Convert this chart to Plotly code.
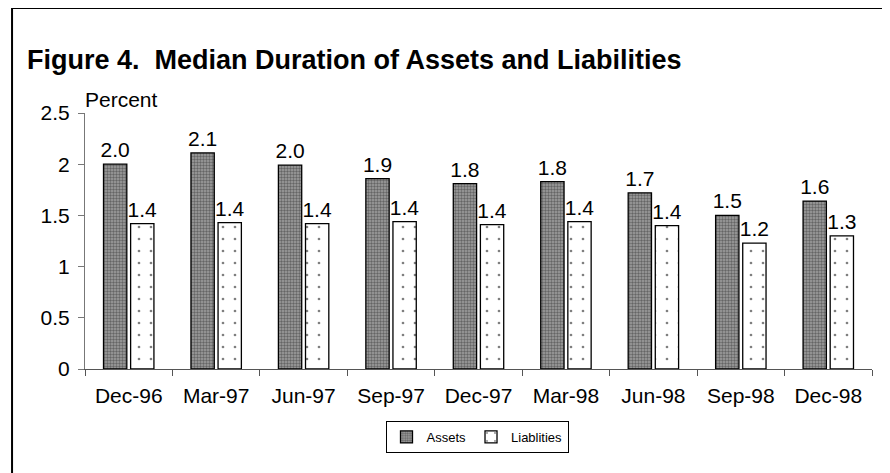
import plotly.graph_objects as go

categories = ["Dec-96", "Mar-97", "Jun-97", "Sep-97", "Dec-97", "Mar-98", "Jun-98", "Sep-98", "Dec-98"]
assets = [2.00, 2.11, 1.99, 1.86, 1.81, 1.83, 1.72, 1.50, 1.64]
liabilities = [1.42, 1.43, 1.42, 1.44, 1.41, 1.44, 1.40, 1.23, 1.30]
y_ticks = [0, 0.5, 1, 1.5, 2, 2.5]
y_tick_labels = ["0", "0.5", "1", "1.5", "2", "2.5"]

FONT = "Arial, Liberation Sans, sans-serif"

# page body has an 8px margin; figure is sized/offset to compensate
W, H = 882, 465
L, T = 77, 105
PW = 787.5
PH = 256

fig = go.Figure()
fig.add_trace(go.Bar(
    name="Assets", x=categories, y=assets,
    text=[f"{v:.1f}" for v in assets], textposition="outside",
    textfont=dict(size=21, color="black", family=FONT),
    constraintext="none", cliponaxis=False,
    marker=dict(color="#8c8c8c", line=dict(color="black", width=1.3),
                pattern=dict(shape=".", size=3, solidity=0.5, fgcolor="#2a2a2a", bgcolor="#a0a0a0", fillmode="overlay")),
))
fig.add_trace(go.Bar(
    name="Liablities", x=categories, y=liabilities,
    text=[f"{v:.1f}" for v in liabilities], textposition="outside",
    textfont=dict(size=21, color="black", family=FONT),
    constraintext="none", cliponaxis=False,
    marker=dict(color="white", line=dict(color="black", width=1.3),
                pattern=dict(shape=".", size=12, solidity=0.04, fgcolor="black", bgcolor="white", fillmode="overlay")),
))

fig.update_layout(
    width=W, height=H,
    margin=dict(l=L, r=W - L - PW, t=T, b=H - T - PH),
    paper_bgcolor="white", plot_bgcolor="white",
    font=dict(family=FONT, size=21, color="black"),
    barmode="group", bargap=0.38, bargroupgap=0.14,
    showlegend=True,
    legend=dict(orientation="h", x=(477 - 8) / W, xanchor="center", xref="container",
                y=1 - (437 - 8) / H, yanchor="middle", yref="container",
                bordercolor="black", borderwidth=1, bgcolor="white",
                font=dict(size=13, family=FONT), itemwidth=30,
                tracegroupgap=0),
    title=dict(text="<b>Figure 4.&nbsp; Median Duration of Assets and Liabilities</b>",
               x=(27 - 8) / W, xanchor="left", xref="container",
               y=1 - (60 - 8) / H, yanchor="middle", yref="container",
               font=dict(size=27, family=FONT, color="black")),
    xaxis=dict(showline=True, linecolor="#555555", linewidth=1,
               ticks="outside", tickson="boundaries", ticklen=6, tickcolor="#555555",
               showgrid=False, ticklabelstandoff=8, tickfont=dict(size=21)),
    yaxis=dict(range=[0, 2.5], tickvals=y_ticks, ticktext=y_tick_labels,
               showline=True, linecolor="#777777", linewidth=1,
               ticks="outside", ticklen=6, tickcolor="#777777",
               showgrid=False, zeroline=False, ticklabelstandoff=4, tickfont=dict(size=21)),
    annotations=[dict(text="Percent", xref="paper", yref="paper", x=0, y=1,
                      xanchor="left", yanchor="bottom", yshift=0, xshift=-2,
                      showarrow=False, font=dict(size=21, family=FONT))],
    shapes=[dict(type="rect", xref="paper", yref="paper",
                 x0=(12 - 8 - L) / PW, x1=(900 - 8 - L) / PW,
                 y0=-0.6, y1=(T + PH - 0) / PH,
                 line=dict(color="black", width=2), fillcolor="rgba(0,0,0,0)", layer="below")],
)

fig.write_html("out.html")
